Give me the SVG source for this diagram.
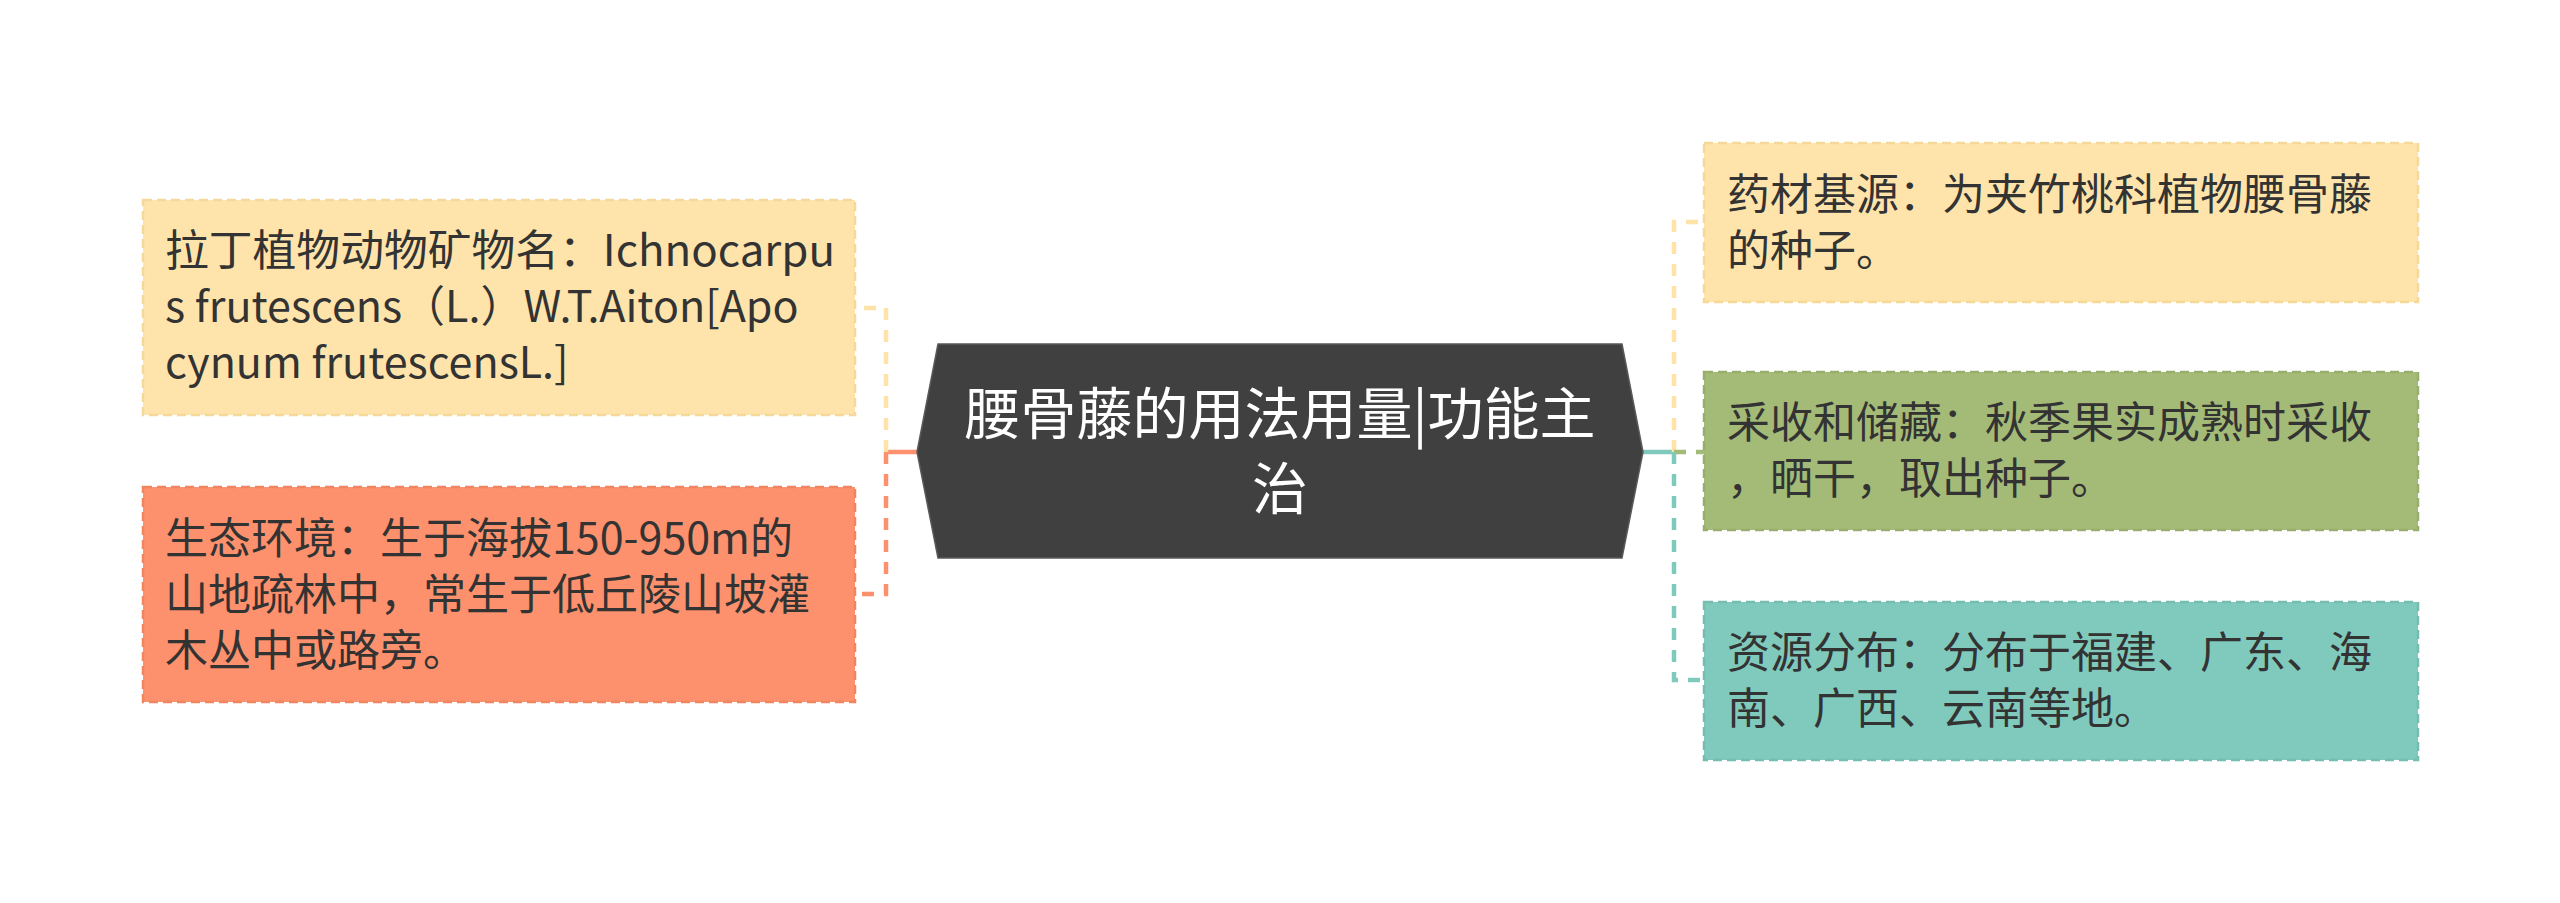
<svg xmlns="http://www.w3.org/2000/svg" width="2560" height="903" viewBox="0 0 2560 903">
<style>
.t{font-family:"Microsoft YaHei","Noto Sans CJK SC",sans-serif;font-size:43px;fill:#333333}
.c{font-family:"Microsoft YaHei","Noto Sans CJK SC",sans-serif;font-size:56px;fill:#ffffff;text-anchor:middle}
.box{stroke-width:2.5;stroke-dasharray:9 5}
.ln{fill:none;stroke-width:4.5}
.d{stroke-dasharray:12 10}
</style>
<rect width="2560" height="903" fill="#ffffff"/>
<g id="connectors">
<line class="ln" x1="917" y1="452" x2="886" y2="452" stroke="#FD916D"/>
<polyline class="ln d" points="886,452 886,308 855,308" stroke="#FEE2A8"/>
<polyline class="ln d" points="886,452 886,594 855,594" stroke="#FD916D"/>
<line class="ln" x1="1643" y1="452" x2="1674" y2="452" stroke="#80CABD"/>
<polyline class="ln d" points="1674,452 1674,222 1704,222" stroke="#FEE2A8"/>
<line class="ln d" x1="1674" y1="452" x2="1704" y2="452" stroke="#A4BB78"/>
<polyline class="ln d" points="1674,452 1674,680 1704,680" stroke="#80CABD"/>
</g>
<g id="center">
<polygon points="917,452 938,344 1622,344 1643,452 1622,558 938,558" fill="#404040" stroke="#5a5a5a" stroke-width="1.5"/>
<text class="c" x="1280" y="434">腰骨藤的用法用量|功能主</text>
<text class="c" x="1280" y="509">治</text>
</g>
<g id="n-latin">
<rect class="box" x="143" y="200" width="712" height="215" fill="#FEE4AB" stroke="#F5D89A"/>
<text class="t" x="165" y="266" textLength="670" lengthAdjust="spacingAndGlyphs">拉丁植物动物矿物名：Ichnocarpu</text>
<text class="t" x="165" y="322">s frutescens（L.）W.T.Aiton[Apo</text>
<text class="t" x="165" y="378">cynum frutescensL.]</text>
</g>
<g id="n-env">
<rect class="box" x="143" y="487" width="712" height="215" fill="#FD916D" stroke="#F08560"/>
<text class="t" x="165" y="554">生态环境：生于海拔150-950m的</text>
<text class="t" x="165" y="610">山地疏林中，常生于低丘陵山坡灌</text>
<text class="t" x="165" y="666">木丛中或路旁。</text>
</g>
<g id="n-source">
<rect class="box" x="1704" y="143" width="714" height="159" fill="#FEE4AB" stroke="#F5D89A"/>
<text class="t" x="1727" y="210">药材基源：为夹竹桃科植物腰骨藤</text>
<text class="t" x="1727" y="266">的种子。</text>
</g>
<g id="n-harvest">
<rect class="box" x="1704" y="372" width="714" height="158" fill="#A4BB78" stroke="#97AE6C"/>
<text class="t" x="1727" y="438">采收和储藏：秋季果实成熟时采收</text>
<text class="t" x="1727" y="494">，晒干，取出种子。</text>
</g>
<g id="n-dist">
<rect class="box" x="1704" y="602" width="714" height="158" fill="#80CABD" stroke="#74BDB0"/>
<text class="t" x="1727" y="668">资源分布：分布于福建、广东、海</text>
<text class="t" x="1727" y="724">南、广西、云南等地。</text>
</g>
</svg>
